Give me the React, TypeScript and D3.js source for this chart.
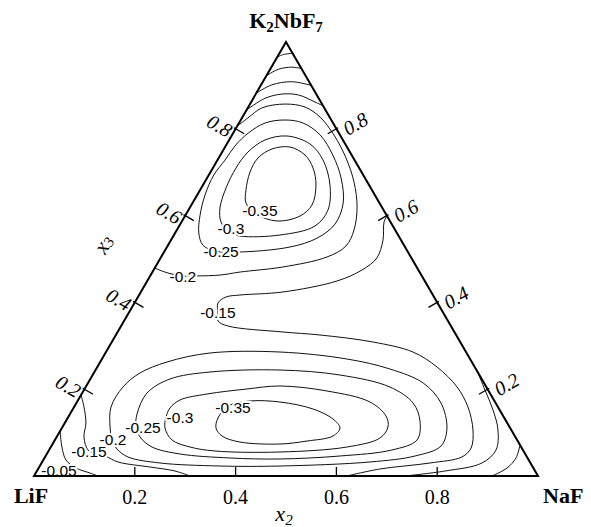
import * as d3 from 'd3';

type Pt = [number, number]; // [x2, x3] mole fractions (NaF, K2NbF7)

// ---- contour lines, in composition coordinates ----
const arcTop1: Pt[] = [[0, 0.965], [0.009, 0.971], [0.026, 0.974]];
const arcTop2: Pt[] = [[0, 0.922], [0.016, 0.937], [0.04, 0.942], [0.061, 0.939]];
const arcTop3: Pt[] = [[0, 0.882], [0.021, 0.901], [0.057, 0.9085], [0.1, 0.9]];
const arcTop4: Pt[] = [[0, 0.843], [0.023, 0.87], [0.0515, 0.88], [0.0854, 0.878], [0.1266, 0.8618], [0.147, 0.853]];

const upper20: Pt[] = [
  [0, 0.806], [0.012, 0.825], [0.028, 0.848], [0.07, 0.857], [0.113, 0.85], [0.154, 0.827],
  [0.202, 0.786], [0.2525, 0.733], [0.2965, 0.677], [0.331, 0.62], [0.3515, 0.567], [0.354, 0.53],
  [0.329, 0.5046], [0.253, 0.4816], [0.174, 0.47], [0.1375, 0.463], [0.093, 0.461], [0.065, 0.461],
  [0.032, 0.4677], [0, 0.479],
];
const upper25: Pt[] = [
  [0.147, 0.516], [0.244, 0.5276], [0.2875, 0.548], [0.307, 0.5806], [0.299, 0.629], [0.266, 0.6866],
  [0.223, 0.7396], [0.175, 0.7857], [0.127, 0.8134], [0.088, 0.8203], [0.052, 0.8134], [0.03, 0.79],
  [0.019, 0.7627], [0.015, 0.728], [0.01, 0.6935], [0.0156, 0.6475], [0.029, 0.601], [0.047, 0.56],
  [0.069, 0.532], [0.1, 0.5184],
];
const upper30: Pt[] = [
  [0.1322, 0.553], [0.2104, 0.5553], [0.2695, 0.576], [0.2768, 0.6129], [0.252, 0.6705], [0.2094, 0.7281],
  [0.1651, 0.765], [0.1103, 0.7834], [0.0712, 0.7742], [0.0513, 0.7465], [0.046, 0.7097], [0.0492, 0.6636],
  [0.0602, 0.6175], [0.0784, 0.5853], [0.1058, 0.5622],
];
const upper35: Pt[] = [
  [0.1883, 0.5876], [0.2283, 0.599], [0.2394, 0.6244], [0.2242, 0.6705], [0.1988, 0.7097], [0.1679, 0.7396],
  [0.1289, 0.758], [0.0955, 0.7535], [0.078, 0.7327], [0.0784, 0.7005], [0.0911, 0.659], [0.1061, 0.629],
  [0.1387, 0.6037],
];
const mid15: Pt[] = [
  [0.401, 0.599], [0.402, 0.585], [0.4206, 0.5438], [0.429, 0.5023], [0.4135, 0.4747], [0.3765, 0.4493],
  [0.282, 0.424], [0.2, 0.417], [0.1748, 0.4124], [0.1657, 0.3986], [0.177, 0.3756], [0.1866, 0.3571],
  [0.212, 0.3456], [0.328, 0.3318], [0.405, 0.3249], [0.518, 0.3088], [0.609, 0.2857], [0.674, 0.2512],
  [0.737, 0.205], [0.7815, 0.159], [0.818, 0.106], [0.835, 0.0645], [0.827, 0.0438], [0.771, 0.03],
  [0.678, 0.0161], [0.621, 0],
];
const lower20: Pt[] = [
  [0.092, 0.1175], [0.0733, 0.159], [0.074, 0.205], [0.0916, 0.2373], [0.1326, 0.2627], [0.2075, 0.2834],
  [0.345, 0.2857], [0.486, 0.2696], [0.583, 0.2465], [0.665, 0.2143], [0.7234, 0.1682], [0.764, 0.1106],
  [0.773, 0.0691], [0.733, 0.0461], [0.6505, 0.0323], [0.4766, 0.023], [0.3575, 0.023], [0.235, 0.03],
  [0.1646, 0.0438], [0.1336, 0.0622], [0.1133, 0.083],
];
const lower25: Pt[] = [
  [0.133, 0.1429], [0.1286, 0.1912], [0.158, 0.2235], [0.2294, 0.2396], [0.366, 0.2442], [0.4907, 0.2327],
  [0.6038, 0.205], [0.668, 0.1682], [0.7025, 0.1267], [0.7184, 0.083], [0.68, 0.0599], [0.5841, 0.0461],
  [0.4684, 0.0392], [0.3682, 0.0415], [0.2644, 0.0507], [0.2007, 0.0668], [0.1654, 0.0899], [0.1448, 0.1152],
];
const lower30: Pt[] = [
  [0.1915, 0.1567], [0.2021, 0.1751], [0.2488, 0.1889], [0.3224, 0.2005], [0.3843, 0.2074], [0.4834, 0.1959],
  [0.5814, 0.1705], [0.6293, 0.1382], [0.6459, 0.1129], [0.6427, 0.0876], [0.5876, 0.0668], [0.4604, 0.0553],
  [0.3303, 0.0576], [0.2761, 0.0668], [0.2323, 0.083], [0.2046, 0.1106], [0.194, 0.1359],
];
const lower35: Pt[] = [
  [0.2983, 0.1336], [0.3043, 0.1613], [0.3422, 0.1728], [0.4027, 0.1705], [0.4764, 0.1544], [0.5276, 0.1313],
  [0.5518, 0.1106], [0.5472, 0.0922], [0.5014, 0.0806], [0.4511, 0.0737], [0.3696, 0.0783], [0.3269, 0.0922],
  [0.3058, 0.1106],
];
const lower15: Pt[] = [
  [0, 0.1866], [0.0197, 0.159], [0.042, 0.1221], [0.0542, 0.0899], [0.08, 0.0576], [0.118, 0.0461],
  [0.1506, 0.0323], [0.2198, 0.0207], [0.274, 0.0115], [0.3095, 0],
];
const lower05: Pt[] = [[0, 0.1037], [0.022, 0.0668], [0.045, 0.0369], [0.0741, 0.0184], [0.1076, 0.0069], [0.127, 0]];
const right10: Pt[] = [
  [0.7604, 0.2396], [0.7957, 0.1982], [0.8347, 0.1521], [0.8676, 0.106], [0.8867, 0.0599], [0.8739, 0.03],
  [0.8097, 0.0115], [0.736, 0],
];
const right05: Pt[] = [[0.9286, 0.0714], [0.9356, 0.0415], [0.9293, 0.0184], [0.9087, 0]];

const contourLines = [
  { value: -0.05, pts: arcTop1, closed: false },
  { value: -0.1, pts: arcTop2, closed: false },
  { value: -0.15, pts: arcTop3, closed: false },
  { value: -0.2, pts: arcTop4, closed: false },
  { value: -0.2, pts: upper20, closed: false },
  { value: -0.25, pts: upper25, closed: true },
  { value: -0.3, pts: upper30, closed: true },
  { value: -0.35, pts: upper35, closed: true },
  { value: -0.15, pts: mid15, closed: false },
  { value: -0.2, pts: lower20, closed: true },
  { value: -0.25, pts: lower25, closed: true },
  { value: -0.3, pts: lower30, closed: true },
  { value: -0.35, pts: lower35, closed: true },
  { value: -0.15, pts: lower15, closed: false },
  { value: -0.05, pts: lower05, closed: false },
  { value: -0.1, pts: right10, closed: false },
  { value: -0.05, pts: right05, closed: false },
];

// contour label texts and where they sit (composition coords)
const labelTexts = ['-0.35', '-0.3', '-0.25', '-0.2', '-0.15', '-0.35', '-0.3', '-0.25', '-0.2', '-0.15', '-0.05'];
const labelSpots: Pt[] = [
  [0.143, 0.6106], [0.105, 0.5714], [0.112, 0.5184], [0.065, 0.4608], [0.177, 0.3756],
  [0.3165, 0.1567], [0.2217, 0.1359], [0.1598, 0.1129], [0.1152, 0.083], [0.0803, 0.0576], [0.0427, 0.0138],
];

const ticks = [0.2, 0.4, 0.6, 0.8];

const W = 591;
const H = 527;

export default function App() {
  const xScale = d3.scaleLinear().domain([0, 1]).range([34, 538]);
  const yScale = d3.scaleLinear().domain([0, 1]).range([476, 42]);
  const project = (p: Pt): [number, number] => [xScale(p[0] + p[1] / 2), yScale(p[1])];

  const openLine = d3.line<Pt>()
    .x(d => project(d)[0])
    .y(d => project(d)[1])
    .curve(d3.curveCatmullRom.alpha(0.5));
  const closedLine = d3.line<Pt>()
    .x(d => project(d)[0])
    .y(d => project(d)[1])
    .curve(d3.curveCatmullRomClosed.alpha(0.5));

  const [lx, ly] = project([0, 0]);
  const [rx, ry] = project([1, 0]);
  const [tx, ty] = project([0, 1]);

  const serif = '"Liberation Serif", "Times New Roman", serif';
  const sans = '"Liberation Sans", Arial, sans-serif';

  return (
    <svg width={W} height={H} viewBox={`0 0 ${W} ${H}`}
      style={{ position: 'absolute', left: 0, top: 0, display: 'block', background: '#fff' }}>
      <rect width={W} height={H} fill="#fff" />

      {/* contours */}
      <g fill="none" stroke="#111" strokeWidth={1}>
        {contourLines.map((c, i) => (
          <path key={i} d={(c.closed ? closedLine : openLine)(c.pts) || ''} />
        ))}
      </g>

      {/* contour labels */}
      <g fontFamily={sans} fontSize={15.5} textAnchor="middle" dominantBaseline="central">
        {labelTexts.map((t, i) => {
          const [x, y] = project(labelSpots[i]);
          return (
            <text key={i} x={x} y={y} fill="#000" stroke="#fff" strokeWidth={4}
              style={{ paintOrder: 'stroke' }}>{t}</text>
          );
        })}
      </g>

      {/* triangle frame */}
      <path d={`M${lx},${ly}L${rx},${ry}L${tx},${ty}Z`} fill="none" stroke="#000" strokeWidth={2}
        strokeLinejoin="miter" />

      {/* ticks */}
      <g stroke="#000" strokeWidth={1.3}>
        {ticks.map(v => {
          const [bx, by] = project([v, 0]);
          const [px, py] = project([0, v]);
          const [qx, qy] = project([1 - v, v]);
          return (
            <g key={v}>
              <line x1={bx} y1={by} x2={bx} y2={by - 9} />
              <line x1={px - 0.866 * 2} y1={py - 1} x2={px + 0.866 * 10} y2={py + 5} />
              <line x1={qx + 0.866 * 2} y1={qy - 1} x2={qx - 0.866 * 10} y2={qy + 5} />
            </g>
          );
        })}
      </g>

      {/* tick labels */}
      <g fontFamily={serif} fill="#000">
        {ticks.map(v => {
          const [bx] = project([v, 0]);
          const [px, py] = project([0, v]);
          const [qx, qy] = project([1 - v, v]);
          return (
            <g key={v}>
              <text x={bx} y={504} fontSize={20} textAnchor="middle">{v.toFixed(1)}</text>
              <text x={px - 16} y={py - 3} fontSize={20} fontStyle="italic" textAnchor="middle"
                dominantBaseline="central" transform={`rotate(30 ${px - 16} ${py - 3})`}>{v.toFixed(1)}</text>
              <text x={qx + 19} y={qy - 5} fontSize={20} fontStyle="italic" textAnchor="middle"
                dominantBaseline="central" transform={`rotate(-30 ${qx + 19} ${qy - 5})`}>{v.toFixed(1)}</text>
            </g>
          );
        })}
      </g>

      {/* vertex labels */}
      <g fontFamily={serif} fontWeight="bold" fill="#000">
        <text x={tx} y={ty - 14} fontSize={22} textAnchor="middle">
          K<tspan fontSize={15} dy={4}>2</tspan><tspan dy={-4}>NbF</tspan><tspan fontSize={15} dy={4}>7</tspan>
        </text>
        <text x={lx - 3} y={503} fontSize={22} textAnchor="middle">LiF</text>
        <text x={rx + 5} y={503} fontSize={22} textAnchor="start">NaF</text>
      </g>

      {/* axis titles */}
      <g fontFamily={serif} fontStyle="italic" fill="#000">
        <text x={284} y={521} fontSize={22} textAnchor="middle">
          x<tspan fontSize={15} dy={4}>2</tspan>
        </text>
        <text x={103} y={244} fontSize={22} textAnchor="middle" dominantBaseline="central"
          transform="rotate(-60 103 244)">
          x<tspan fontSize={15} dy={4}>3</tspan>
        </text>
      </g>
    </svg>
  );
}
